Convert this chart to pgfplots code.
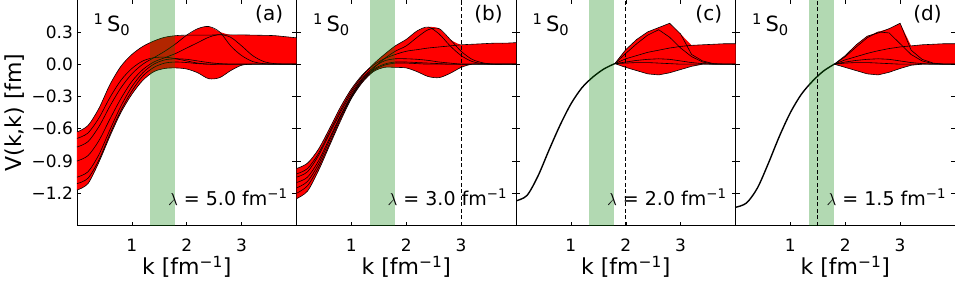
\documentclass[border=0pt]{standalone}
\usepackage{fontspec}
\setmainfont{DejaVu Sans}
\usepackage{pgfplots}
\usepackage{pgfplotstable}
\pgfplotsset{compat=1.18}
\usepgfplotslibrary{fillbetween}
\definecolor{mplgreen}{RGB}{0,128,0}

\pgfplotstableread{
k    c1     c2     c3     c4     c5     c6     c7
0.0 -0.63  -0.77  -0.90  -1.17  -1.05  -0.69  -1.11
0.2 -0.57  -0.72  -0.85  -1.11  -1.00  -0.64  -1.06
0.4 -0.41  -0.58  -0.71  -0.91  -0.84  -0.50  -0.89
0.6 -0.19  -0.39  -0.51  -0.67  -0.61  -0.31  -0.65
0.8 -0.02  -0.22  -0.32  -0.45  -0.39  -0.15  -0.43
1.0  0.09  -0.09  -0.16  -0.28  -0.21  -0.04  -0.25
1.2  0.165  0.00  -0.05  -0.15  -0.08   0.03  -0.11
1.4  0.215  0.06   0.02  -0.07   0.00   0.06  -0.03
1.6  0.25   0.12   0.06  -0.04   0.04   0.065  0.01
1.8  0.265  0.19   0.10  -0.035  0.05   0.05   0.02
2.0  0.27   0.27   0.15  -0.045  0.045  0.03   0.015
2.2  0.27   0.33   0.20  -0.08   0.03   0.01   0.005
2.4  0.27   0.35   0.25  -0.135  0.015  0.0    0.0
2.6  0.272  0.30   0.275 -0.125  0.005  0.0    0.0
2.8  0.272  0.17   0.25  -0.06   0.0    0.0    0.0
3.0  0.272  0.08   0.17  -0.01   0.0    0.0    0.0
3.2  0.27   0.025  0.08   0.0    0.0    0.0    0.0
3.4  0.268  0.005  0.025  0.0    0.0    0.0    0.0
3.6  0.265  0.0    0.005  0.0    0.0    0.0    0.0
3.8  0.255  0.0    0.0    0.0    0.0    0.0    0.0
4.0  0.245  0.0    0.0    0.0    0.0    0.0    0.0
}\tabA

\pgfplotstableread{
k    c1     c2     c3     c4     c5     c6     c7
0.0 -0.97  -1.02  -1.10  -1.25  -1.05  -1.15  -1.20
0.2 -0.92  -0.97  -1.05  -1.18  -1.00  -1.09  -1.13
0.4 -0.79  -0.83  -0.90  -0.99  -0.85  -0.93  -0.96
0.6 -0.60  -0.63  -0.69  -0.76  -0.65  -0.71  -0.74
0.8 -0.40  -0.43  -0.48  -0.53  -0.45  -0.49  -0.51
1.0 -0.23  -0.25  -0.29  -0.32  -0.27  -0.30  -0.31
1.2 -0.10  -0.11  -0.14  -0.17  -0.13  -0.15  -0.16
1.4 -0.01   0.00  -0.04  -0.07  -0.03  -0.05  -0.06
1.6  0.05   0.09   0.05  -0.03   0.03   0.00  -0.01
1.8  0.09   0.17   0.12  -0.03   0.05   0.02   0.01
2.0  0.12   0.23   0.17  -0.035  0.05   0.02   0.01
2.2  0.135  0.31   0.25  -0.07   0.045  0.015  0.005
2.4  0.15   0.345  0.32  -0.115  0.035  0.01   0.0
2.6  0.16   0.28   0.33  -0.125  0.02   0.005  0.0
2.8  0.17   0.17   0.23  -0.085  0.01   0.0    0.0
3.0  0.18   0.08   0.12  -0.03   0.0    0.0    0.0
3.2  0.185  0.025  0.045  0.0    0.0    0.0    0.0
3.4  0.19   0.005  0.012  0.0    0.0    0.0    0.0
3.6  0.195  0.0    0.0    0.0    0.0    0.0    0.0
3.8  0.195  0.0    0.0    0.0    0.0    0.0    0.0
4.0  0.20   0.0    0.0    0.0    0.0    0.0    0.0
}\tabB

\pgfplotstableread{
k   v
0.0 -1.27
0.2 -1.22
0.4 -1.04
0.6 -0.80
0.8 -0.57
1.0 -0.37
1.2 -0.22
1.4 -0.12
1.6 -0.045
1.8  0.005
}\tabCc

\pgfplotstableread{
k    c1     c2     c3     c4     c5     c6
1.8  0.005  0.005  0.005  0.005  0.005  0.005
2.0  0.05   0.135  0.10  -0.03   0.02   0.01
2.2  0.08   0.23   0.19  -0.06   0.035  0.015
2.4  0.11   0.30   0.27  -0.09   0.045  0.015
2.6  0.13   0.34   0.32  -0.10   0.05   0.01
2.8  0.15   0.38   0.25  -0.08   0.045  0.005
3.0  0.165  0.28   0.15  -0.05   0.03   0.0
3.2  0.175  0.09   0.07  -0.02   0.015  0.0
3.4  0.18   0.03   0.02   0.0    0.005  0.0
3.6  0.185  0.005  0.0    0.0    0.0    0.0
3.8  0.19   0.0    0.0    0.0    0.0    0.0
4.0  0.19   0.0    0.0    0.0    0.0    0.0
}\tabC

\pgfplotstableread{
k   v
0.0 -1.33
0.2 -1.29
0.4 -1.15
0.6 -0.92
0.8 -0.67
1.0 -0.45
1.2 -0.28
1.4 -0.16
1.6 -0.065
1.8  0.0
}\tabDc

\pgfplotstableread{
k    c1     c2     c3     c4     c5     c6
1.8  0.0    0.0    0.0    0.0    0.0    0.0
2.0  0.04   0.08   0.07  -0.03   0.02   0.01
2.2  0.07   0.18   0.16  -0.06   0.035  0.015
2.4  0.10   0.26   0.245 -0.09   0.045  0.015
2.6  0.125  0.29   0.30  -0.10   0.05   0.01
2.8  0.145  0.33   0.29  -0.075  0.045  0.005
3.0  0.16   0.38   0.19  -0.04   0.03   0.0
3.2  0.17   0.13   0.09  -0.01   0.015  0.0
3.4  0.18   0.045  0.03   0.0    0.005  0.0
3.6  0.185  0.01   0.005  0.0    0.0    0.0
3.8  0.19   0.0    0.0    0.0    0.0    0.0
4.0  0.19   0.0    0.0    0.0    0.0    0.0
}\tabD

\pgfplotstablecreatecol[create col/expr={max(\thisrow{c1},\thisrow{c2},\thisrow{c3},\thisrow{c4},\thisrow{c5},\thisrow{c6},\thisrow{c7})}]{hi}{\tabA}
\pgfplotstablecreatecol[create col/expr={min(\thisrow{c1},\thisrow{c2},\thisrow{c3},\thisrow{c4},\thisrow{c5},\thisrow{c6},\thisrow{c7})}]{lo}{\tabA}
\pgfplotstablecreatecol[create col/expr={max(\thisrow{c1},\thisrow{c2},\thisrow{c3},\thisrow{c4},\thisrow{c5},\thisrow{c6},\thisrow{c7})}]{hi}{\tabB}
\pgfplotstablecreatecol[create col/expr={min(\thisrow{c1},\thisrow{c2},\thisrow{c3},\thisrow{c4},\thisrow{c5},\thisrow{c6},\thisrow{c7})}]{lo}{\tabB}
\pgfplotstablecreatecol[create col/expr={max(\thisrow{c1},\thisrow{c2},\thisrow{c3},\thisrow{c4},\thisrow{c5},\thisrow{c6})}]{hi}{\tabC}
\pgfplotstablecreatecol[create col/expr={min(\thisrow{c1},\thisrow{c2},\thisrow{c3},\thisrow{c4},\thisrow{c5},\thisrow{c6})}]{lo}{\tabC}
\pgfplotstablecreatecol[create col/expr={max(\thisrow{c1},\thisrow{c2},\thisrow{c3},\thisrow{c4},\thisrow{c5},\thisrow{c6})}]{hi}{\tabD}
\pgfplotstablecreatecol[create col/expr={min(\thisrow{c1},\thisrow{c2},\thisrow{c3},\thisrow{c4},\thisrow{c5},\thisrow{c6})}]{lo}{\tabD}

\pgfplotsset{
  panel/.style={
    width=219.5pt, height=226pt, scale only axis,
    anchor=south west,
    xmin=0, xmax=4, ymin=-1.5, ymax=0.6,
    xtick={1,2,3}, xticklabels={1,2,3},
    ytick={-1.2,-0.9,-0.6,-0.3,0,0.3},
    yticklabels={},
    tick align=inside, xtick pos=both, ytick pos=both,
    xticklabel pos=lower,
    major tick length=4pt,
    tick style={black, line width=0.5pt},
    axis line style={black, line width=0.8pt},
    ticklabel style={font=\fontsize{17}{17}\selectfont},
    xticklabel style={yshift=-10pt},
    yticklabel style={xshift=-0.5pt},
    xlabel={k [fm\textsuperscript{−1}]},
    xlabel style={font=\fontsize{22}{22}\selectfont, at={(rel axis cs:0.5,0)}, anchor=north, yshift=-27pt},
    ylabel style={font=\fontsize{22}{22}\selectfont},
  },
  curve/.style={black, line width=0.6pt},
}

\newcommand{\panellabels}[2]{%
  \node[anchor=west, font=\fontsize{21}{24}\selectfont] at (rel axis cs:0.06,0.89) {\textsuperscript{1}\,S\textsubscript{0}};
  \node[anchor=east, font=\fontsize{20}{24}\selectfont] at (rel axis cs:0.955,0.935) {(#1)};
  \node[anchor=east, font=\fontsize{19}{24}\selectfont] at (rel axis cs:0.975,0.125) {$\lambda$ = #2 fm\textsuperscript{−1}};
}
\newcommand{\greenband}{%
  \addplot[draw=none, fill=mplgreen, fill opacity=0.3] coordinates {(1.335,-1.5) (1.335,0.6) (1.79,0.6) (1.79,-1.5)} -- cycle;
}

\begin{document}
\begin{tikzpicture}

% (a)
\begin{axis}[panel, at={(0pt,0pt)},
  yticklabels={−1.2,−0.9,−0.6,−0.3,0.0,0.3},
  ylabel={V(k,k) [fm]}]
  \addplot[name path=hi, draw=none, smooth] table[x=k,y=hi]{\tabA};
  \addplot[name path=lo, draw=none, smooth] table[x=k,y=lo]{\tabA};
  \addplot[fill=red, draw=none] fill between[of=hi and lo];
  \pgfplotsinvokeforeach{c1,c2,c3,c4,c5,c6,c7}{
    \addplot[curve, smooth] table[x=k,y=#1]{\tabA};
  }
  \greenband
  \panellabels{a}{5.0}
\end{axis}

% (b)
\begin{axis}[panel, at={(219.5pt,0pt)}]
  \addplot[name path=hi, draw=none, smooth] table[x=k,y=hi]{\tabB};
  \addplot[name path=lo, draw=none, smooth] table[x=k,y=lo]{\tabB};
  \addplot[fill=red, draw=none] fill between[of=hi and lo];
  \pgfplotsinvokeforeach{c1,c2,c3,c4,c5,c6,c7}{
    \addplot[curve, smooth] table[x=k,y=#1]{\tabB};
  }
  \greenband
  \addplot[black, line width=0.7pt, dash pattern=on 4pt off 2.5pt] coordinates {(3,-1.5) (3,0.6)};
  \panellabels{b}{3.0}
\end{axis}

% (c)
\begin{axis}[panel, at={(439pt,0pt)}]
  \addplot[name path=hi, draw=none] table[x=k,y=hi]{\tabC};
  \addplot[name path=lo, draw=none] table[x=k,y=lo]{\tabC};
  \addplot[fill=red, draw=none] fill between[of=hi and lo];
  \pgfplotsinvokeforeach{c1,c2,c3,c4,c5,c6}{
    \addplot[curve] table[x=k,y=#1]{\tabC};
  }
  \addplot[black, line width=1.4pt, smooth] table[x=k,y=v]{\tabCc};
  \greenband
  \addplot[black, line width=0.7pt, dash pattern=on 4pt off 2.5pt] coordinates {(2,-1.5) (2,0.6)};
  \panellabels{c}{2.0}
\end{axis}

% (d)
\begin{axis}[panel, at={(658.5pt,0pt)}]
  \addplot[name path=hi, draw=none] table[x=k,y=hi]{\tabD};
  \addplot[name path=lo, draw=none] table[x=k,y=lo]{\tabD};
  \addplot[fill=red, draw=none] fill between[of=hi and lo];
  \pgfplotsinvokeforeach{c1,c2,c3,c4,c5,c6}{
    \addplot[curve] table[x=k,y=#1]{\tabD};
  }
  \addplot[black, line width=1.4pt, smooth] table[x=k,y=v]{\tabDc};
  \greenband
  \addplot[black, line width=0.7pt, dash pattern=on 4pt off 2.5pt] coordinates {(1.5,-1.5) (1.5,0.6)};
  \panellabels{d}{1.5}
\end{axis}

\pgfresetboundingbox
\path[use as bounding box] (-77pt,-55pt) rectangle (878pt,225.6pt);
\end{tikzpicture}
\end{document}
